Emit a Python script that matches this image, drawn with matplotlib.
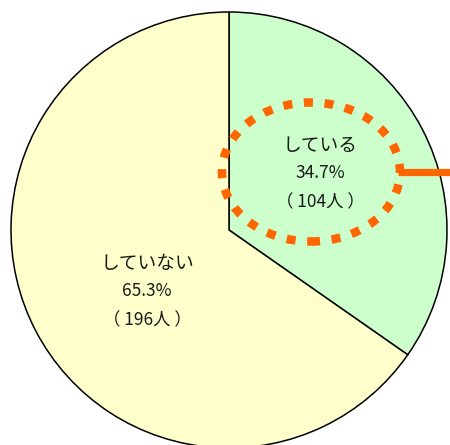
import matplotlib
matplotlib.use("Agg")
import matplotlib.pyplot as plt
from matplotlib.patches import Ellipse

plt.rcParams['font.family'] = ['Noto Sans CJK JP', 'DejaVu Sans']

categories = ["している", "していない"]
percents = [34.7, 65.3]
counts = [104, 196]
colors = ["#CCFFCC", "#FFFFCC"]

W, H = 450, 445
fig = plt.figure(figsize=(W / 100, H / 100), dpi=100)
ax = fig.add_axes([0, 0, 1, 1])

cx, cy, r = 229, H - 230, 218
ax.pie(percents, colors=colors, startangle=90, counterclock=False,
       radius=r, center=(cx, cy), frame=True,
       wedgeprops=dict(edgecolor='black', linewidth=1.1))
ax.set_xlim(0, W)
ax.set_ylim(0, H)
ax.set_aspect('equal')
ax.axis('off')

# highlight ellipse and connector
orange = "#FF6600"
ell = Ellipse((311, H - 172), 178, 139, fill=False, edgecolor=orange,
              linewidth=6.2, linestyle=(0, (1.05, 1.35)))
ell.set_capstyle('butt')
ax.add_patch(ell)
ax.plot([398, 452], [H - 172, H - 172], color=orange, linewidth=5.2,
        solid_capstyle='butt', clip_on=False)

label_pos = [(320, 145), (147, 263)]
for (x, y), cat, p, n in zip(label_pos, categories, percents, counts):
    ax.text(x, H - y, cat, ha='center', va='center', fontsize=13.5, color='#1a1a1a')
    ax.text(x, H - y - 28, f"{p}%", ha='center', va='center', fontsize=12.5, color='#1a1a1a')
    ax.text(x, H - y - 57, f"（ {n}人 ）", ha='center', va='center', fontsize=12.5, color='#1a1a1a')

fig.savefig("out.png", dpi=100)
